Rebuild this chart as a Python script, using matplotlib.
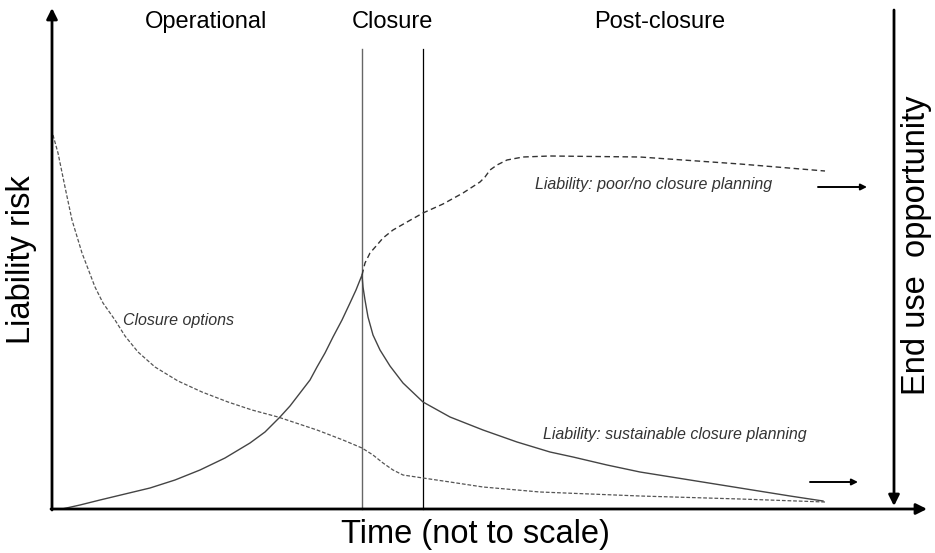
import matplotlib.pyplot as plt

plt.rcParams['font.family'] = ['Liberation Sans', 'DejaVu Sans']

# time (not to scale) vs liability risk, arbitrary units
closure_t = [1, 6, 13, 20, 30, 43, 51, 63, 73, 86, 103, 126, 150, 176, 200, 226, 265, 291,
             310, 321, 331, 341, 351, 371, 398, 431, 488, 588, 688, 773]
closure_r = [374, 356, 322, 289, 256, 222, 206, 189, 173, 157, 142, 128, 117, 107, 99, 92, 79, 69,
             61, 54, 46, 39, 34, 31, 27, 22, 17, 13, 10, 7]

sustain_t = [10, 28, 48, 73, 98, 123, 148, 173, 198, 213, 228, 238, 248, 258, 265, 273, 281, 290,
             298, 304, 310,
             311, 313, 316, 321, 328, 338, 351, 371, 398, 431, 465, 498, 521, 555, 588, 638, 688,
             738, 771]
sustain_r = [0, 4, 9, 15, 21, 29, 39, 51, 66, 77, 92, 103, 116, 129, 142, 156, 172, 189,
             206, 219, 234,
             222, 209, 192, 174, 159, 143, 126, 107, 92, 79, 67, 57, 52, 44, 37, 29, 21,
             13, 8]

poor_t = [310, 313, 318, 325, 331, 341, 355, 371, 391, 411, 428, 433, 438, 445, 455, 471, 498,
          588, 688, 773]
poor_r = [234, 246, 256, 264, 271, 279, 287, 296, 305, 316, 327, 332, 339, 344, 349, 352, 353,
          352, 345, 338]

phase_names = ["Operational", "Closure", "Post-closure"]
phase_centres = [154, 340, 608]
phase_bounds = [310, 371]

fig = plt.figure(figsize=(9.35, 5.53), dpi=100)
ax = fig.add_axes([0, 0, 1, 1])
ax.set_xlim(-52, 883)
ax.set_ylim(-44, 509)
ax.axis('off')

# phase boundaries
ax.plot([phase_bounds[0]] * 2, [0, 460], color='#666666', lw=1.0)
ax.plot([phase_bounds[1]] * 2, [0, 460], color='black', lw=0.9)

for name, tc in zip(phase_names, phase_centres):
    ax.text(tc, 487, name, ha='center', va='center', fontsize=17)

# curves
ax.plot(closure_t, closure_r, color='#555555', lw=0.9, linestyle=(0, (3, 1.5)),
        dash_joinstyle='round')
ax.plot(sustain_t, sustain_r, color='#444444', lw=1.0, solid_joinstyle='round')
ax.plot(poor_t, poor_r, color='#333333', lw=1.0, linestyle=(0, (4, 2.5)),
        dash_joinstyle='round')

ax.text(71, 189, "Closure options", fontsize=11.5, style='italic', color='#333333', va='center')
ax.text(483, 324, "Liability: poor/no closure planning", fontsize=11.5, style='italic',
        color='#333333', va='center')
ax.text(491, 75, "Liability: sustainable closure planning", fontsize=11.5, style='italic',
        color='#333333', va='center')

# axes as arrows
ax_arrow = dict(arrowstyle='-|>', lw=2.0, color='black', mutation_scale=16, shrinkA=0, shrinkB=0)
ax.annotate('', xy=(0, 501), xytext=(0, -1), arrowprops=ax_arrow)
ax.annotate('', xy=(875, 0), xytext=(-1, 0), arrowprops=ax_arrow)
ax.annotate('', xy=(842, 3), xytext=(842, 499), arrowprops=ax_arrow)

# small arrows towards end use
small_arrow = dict(arrowstyle='-|>', lw=1.4, color='black', mutation_scale=9, shrinkA=0, shrinkB=0)
ax.annotate('', xy=(815, 322), xytext=(766, 322), arrowprops=small_arrow)
ax.annotate('', xy=(806, 27), xytext=(758, 27), arrowprops=small_arrow)

ax.text(-30, 249, "Liability risk", rotation=90, ha='center', va='center', fontsize=23.5)
ax.text(423, -26, "Time (not to scale)", ha='center', va='center', fontsize=23.5)
ax.text(865, 264, "End use  opportunity", rotation=90, ha='center', va='center', fontsize=23.5)

fig.savefig("out.png", dpi=100)
